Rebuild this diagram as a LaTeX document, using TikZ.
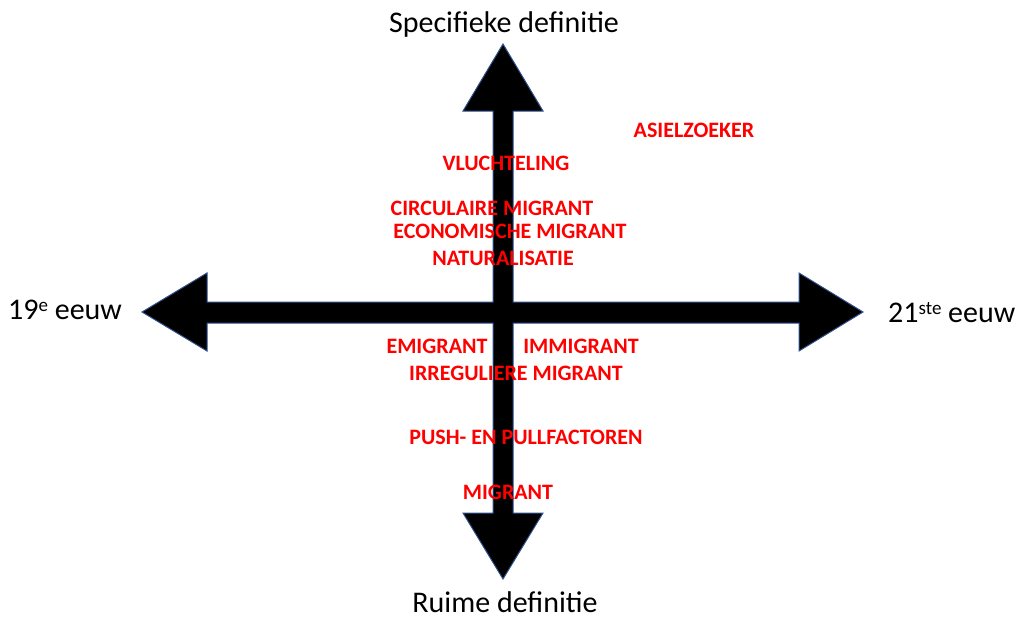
\documentclass[tikz,border=0pt]{standalone}
\usepackage{fontspec}
\setmainfont{Carlito}
\definecolor{arrowrim}{HTML}{2F528F}
\newcommand{\supr}[1]{\raisebox{8pt}{\fontsize{19}{20}\selectfont #1}}
\tikzset{
  term/.style={text=red, font=\fontsize{22}{26}\selectfont\bfseries, inner sep=0pt},
  axislabel/.style={text=black, font=\fontsize{30}{36}\selectfont, inner sep=0pt}
}
\begin{document}
\begin{tikzpicture}[ x=1pt, y=-1pt ]
	  \useasboundingbox (0,0) rectangle (1021,619);

	  % the cross of two double arrows
	  \draw [ fill=black, draw=arrowrim, line width=1pt, line join=miter ]
	    (503,44)--(543,111)--(513,111)--(513,302)--(799,302)--(799,273)--(863,312)
	    --(799,351)--(799,323)--(513,323)--(513,513)--(543,513)--(503,579)
	    --(463,513)--(493,513)--(493,323)--(207,323)--(207,351)--(142,312)
	    --(207,273)--(207,302)--(493,302)--(493,111)--(463,111)--cycle;

	  \node [ axislabel, anchor=base ] (top) at (504,32) { Specifieke definitie };
	  \node [ axislabel, anchor=base ] (bottom) at (505,612) { Ruime definitie };
	  \node [ axislabel, anchor=base west ] (left) at (8,319) { 19\supr{e} eeuw };
	  \node [ axislabel, anchor=base west ] (right) at (888,322) { 21\supr{ste} eeuw };

	  \node [ term ] (asiel) at (694,130) {ASIELZOEKER};
	  \node [ term ] (vlucht) at (506,163) {VLUCHTELING};
	  \node [ term ] (circ) at (492,208) {CIRCULAIRE MIGRANT};
	  \node [ term ] (econ) at (510,231) {ECONOMISCHE MIGRANT};
	  \node [ term ] (natur) at (503,258) {NATURALISATIE};
	  \node [ term ] (emi) at (437,346) {EMIGRANT};
	  \node [ term ] (immi) at (581,346) {IMMIGRANT};
	  \node [ term ] (irreg) at (516,373) {IRREGULIERE MIGRANT};
	  \node [ term ] (push) at (526,437) {PUSH- EN PULLFACTOREN};
	  \node [ term ] (migr) at (508,492) {MIGRANT};
	\end{tikzpicture}
\end{document}
